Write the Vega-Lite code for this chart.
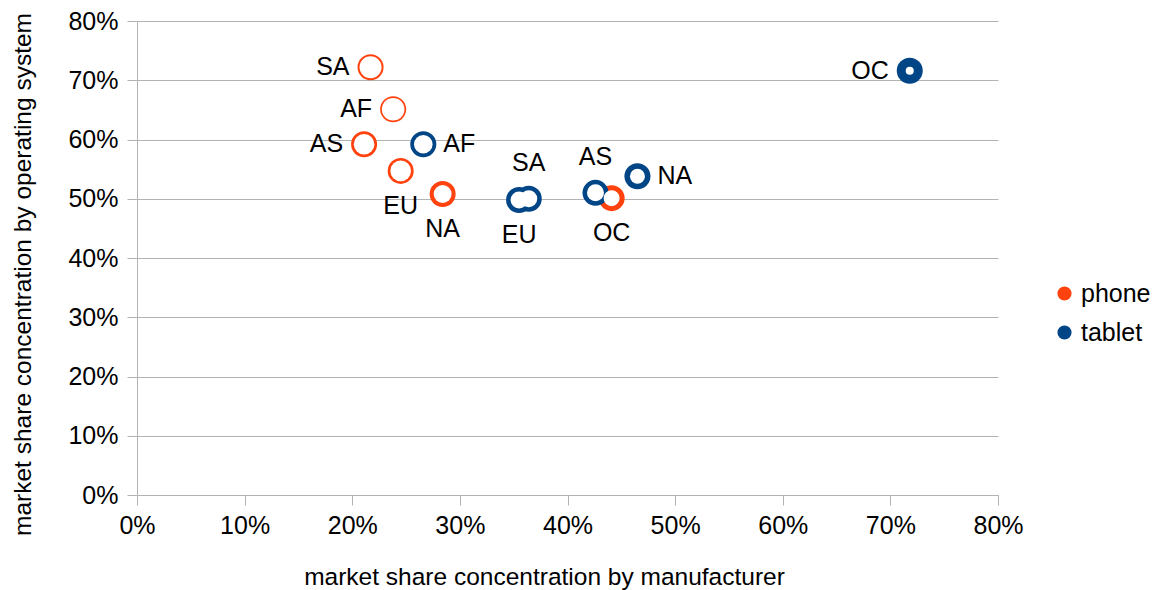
{
  "$schema": "https://vega.github.io/schema/vega-lite/v6.json",
  "width": 861,
  "height": 474,
  "autosize": {"type": "none"},
  "padding": {"left": 137, "top": 21, "right": 159, "bottom": 95},
  "background": "white",
  "config": {
    "view": {"stroke": null},
    "font": "Liberation Sans",
    "axis": {
      "domainColor": "#b3b3b3",
      "tickColor": "#b3b3b3",
      "gridColor": "#b3b3b3",
      "labelColor": "#000000",
      "titleColor": "#000000",
      "labelFont": "Liberation Sans",
      "titleFont": "Liberation Sans",
      "labelFontSize": 25,
      "titleFontSize": 24.5,
      "titleFontWeight": "normal",
      "tickSize": 10,
      "labelFlush": false,
      "labelOverlap": false
    },
    "legend": {"labelFont": "Liberation Sans"}
  },
  "data": {
    "values": [
      {"series": "phone", "region": "SA", "x": 0.217, "y": 0.722, "hole": 0.846},
      {"series": "phone", "region": "AF", "x": 0.238, "y": 0.651, "hole": 0.869},
      {"series": "phone", "region": "AS", "x": 0.211, "y": 0.592, "hole": 0.792},
      {"series": "phone", "region": "EU", "x": 0.245, "y": 0.547, "hole": 0.792},
      {"series": "phone", "region": "NA", "x": 0.284, "y": 0.508, "hole": 0.692},
      {"series": "phone", "region": "OC", "x": 0.441, "y": 0.501, "hole": 0.615},
      {"series": "tablet", "region": "AF", "x": 0.266, "y": 0.592, "hole": 0.715},
      {"series": "tablet", "region": "EU", "x": 0.355, "y": 0.498, "hole": 0.654},
      {"series": "tablet", "region": "SA", "x": 0.364, "y": 0.5, "hole": 0.654},
      {"series": "tablet", "region": "AS", "x": 0.426, "y": 0.51, "hole": 0.654},
      {"series": "tablet", "region": "NA", "x": 0.465, "y": 0.538, "hole": 0.577},
      {"series": "tablet", "region": "OC", "x": 0.718, "y": 0.716, "hole": 0.31}
    ]
  },
  "encoding": {
    "x": {
      "field": "x",
      "type": "quantitative",
      "scale": {"domain": [0, 0.8], "nice": false, "zero": false},
      "axis": {
        "title": "market share concentration by manufacturer",
        "format": ".0%",
        "values": [0, 0.1, 0.2, 0.3, 0.4, 0.5, 0.6, 0.7, 0.8],
        "grid": false,
        "labelPadding": 8,
        "titleX": 407,
        "titleY": 82,
        "titleBaseline": "middle",
        "titleAlign": "center"
      }
    },
    "y": {
      "field": "y",
      "type": "quantitative",
      "scale": {"domain": [0, 0.8], "nice": false, "zero": false},
      "axis": {
        "title": "market share concentration by operating system",
        "format": ".0%",
        "values": [0, 0.1, 0.2, 0.3, 0.4, 0.5, 0.6, 0.7, 0.8],
        "grid": true,
        "labelPadding": 9,
        "titleX": -114,
        "titleY": 253,
        "titleBaseline": "middle",
        "titleAlign": "center",
        "titleAngle": -90
      }
    }
  },
  "layer": [
    {
      "mark": {"type": "point", "shape": "circle", "filled": true, "opacity": 1, "size": 676},
      "encoding": {
        "color": {
          "field": "series",
          "type": "nominal",
          "scale": {"domain": ["phone", "tablet"], "range": ["#ff420e", "#004586"]},
          "legend": {
            "title": null,
            "orient": "none",
            "legendX": 915,
            "legendY": 260,
            "padding": 0,
            "symbolType": "circle",
            "symbolSize": 200,
            "symbolStrokeWidth": 0,
            "labelFontSize": 25,
            "labelOffset": 4,
            "rowPadding": 13,
            "labelColor": "#000000"
          }
        }
      }
    },
    {
      "mark": {"type": "point", "shape": "circle", "filled": true, "opacity": 1, "color": "white"},
      "encoding": {
        "size": {
          "field": "hole",
          "type": "quantitative",
          "scale": {"type": "pow", "exponent": 2, "domain": [0, 1], "range": [0, 676]},
          "legend": null
        }
      }
    },
    {
      "transform": [{"filter": "(datum.series=='phone' && (datum.region=='SA'||datum.region=='AF'||datum.region=='AS')) || (datum.series=='tablet' && datum.region=='OC')"}],
      "mark": {"type": "text", "align": "right", "baseline": "middle", "dx": -21, "fontSize": 25, "color": "#000000", "font": "Liberation Sans"},
      "encoding": {"text": {"field": "region"}}
    },
    {
      "transform": [{"filter": "datum.series=='tablet' && (datum.region=='AF'||datum.region=='NA')"}],
      "mark": {"type": "text", "align": "left", "baseline": "middle", "dx": 20, "fontSize": 25, "color": "#000000", "font": "Liberation Sans"},
      "encoding": {"text": {"field": "region"}}
    },
    {
      "transform": [{"filter": "(datum.series=='phone' && (datum.region=='EU'||datum.region=='NA'||datum.region=='OC')) || (datum.series=='tablet' && datum.region=='EU')"}],
      "mark": {"type": "text", "align": "center", "baseline": "middle", "dy": 35, "fontSize": 25, "color": "#000000", "font": "Liberation Sans"},
      "encoding": {"text": {"field": "region"}}
    },
    {
      "transform": [{"filter": "datum.series=='tablet' && (datum.region=='SA'||datum.region=='AS')"}],
      "mark": {"type": "text", "align": "center", "baseline": "middle", "dy": -36, "fontSize": 25, "color": "#000000", "font": "Liberation Sans"},
      "encoding": {"text": {"field": "region"}}
    }
  ]
}
